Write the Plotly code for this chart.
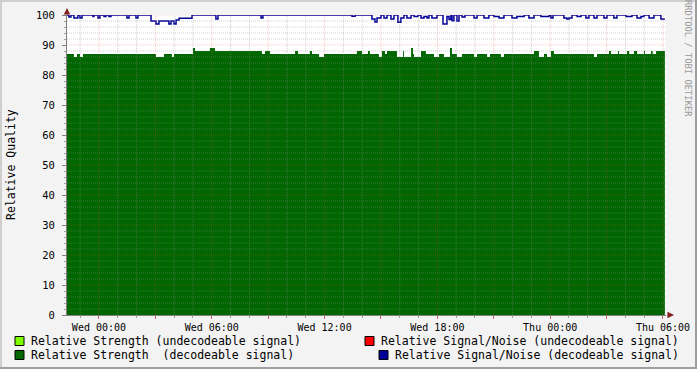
import plotly.graph_objects as go

# ---------------- data (hours relative to Wed 00:00) ----------------
strength_t = [-1.70, -1.33, -1.17, -1.01, -0.85, 3.03, 3.46, 3.88, 3.99, 5.00, 5.11, 5.90, 6.17,
              8.67, 8.83, 9.10, 10.43, 10.59, 11.22, 11.33, 11.70, 11.97, 13.72, 13.99, 14.31,
              14.41, 14.89, 15.05, 15.21, 15.32, 15.85, 16.17, 16.22, 16.60, 16.70, 16.76, 17.13,
              17.39, 17.82, 18.09, 18.35, 18.67, 18.78, 19.04, 19.31, 19.95, 20.11, 20.64, 20.80,
              21.38, 21.54, 23.14, 23.40, 23.67, 23.83, 24.04, 24.20, 26.33, 26.49, 27.13, 27.23,
              27.61, 27.66, 28.09, 28.20, 28.46, 28.62, 28.99, 29.04, 29.36, 29.45, 29.63, 30.10]
strength_v = [87, 86, 87, 86, 87, 86, 87, 86, 87, 89, 88, 89, 88,
              87, 88, 87, 88, 87, 88, 87, 86, 87, 88, 87, 88,
              87, 86, 88, 87, 88, 86, 88, 86, 89, 87, 86, 88,
              87, 86, 87, 86, 89, 87, 86, 87, 86, 87, 86, 87,
              86, 87, 88, 86, 87, 86, 88, 87, 86, 87, 88, 87,
              88, 87, 88, 87, 88, 87, 88, 87, 88, 87, 88, 88]

snr_t = [-1.70, -1.60, -1.49, -1.33, -1.12, -1.01, -0.90, -0.32, -0.27, -0.05, 0.05, 0.27, 0.37,
         0.53, 0.64, 1.49, 1.60, 1.97, 2.07, 2.77, 3.03, 3.19, 3.72, 3.83, 3.99, 4.10, 4.26,
         4.95, 6.22, 6.33, 8.62, 8.72, 13.46, 13.62, 14.52, 14.68, 14.79, 15.00, 15.16, 15.32,
         15.53, 15.69, 15.90, 16.06, 16.22, 16.38, 16.60, 16.76, 16.97, 17.13, 17.29, 17.45,
         17.55, 17.71, 17.98, 18.30, 18.51, 18.62, 18.72, 18.78, 18.88, 19.04, 19.15, 19.31,
         19.47, 19.95, 20.11, 20.48, 20.74, 21.01, 21.28, 21.54, 21.97, 22.23, 22.61, 22.87,
         23.14, 23.51, 23.67, 23.94, 24.04, 24.15, 24.73, 24.89, 25.00, 25.16, 25.43, 25.64,
         25.90, 26.06, 26.33, 26.49, 26.86, 27.02, 27.39, 27.55, 28.03, 28.35, 28.62, 28.83,
         28.99, 29.26, 29.52, 29.89, 30.10]
snr_v = [100, 99.3, 100, 99, 100, 99, 100, 99.5, 100, 99, 100, 99.5, 100,
         99.5, 100, 99, 100, 99, 100, 98, 97, 98, 97, 98, 97, 98.3, 98.9,
         100, 98.7, 100, 99, 100, 99.6, 100, 98.7, 97.7, 99, 100, 99, 100,
         98.7, 100, 97.6, 99, 100, 99, 100, 99.5, 100, 99, 99.5, 99,
         100, 99, 100, 97, 99.5, 98.5, 100, 98.1, 100, 98, 100, 99.3,
         100, 99, 100, 99, 100, 99.5, 99, 100, 99, 99.5, 100, 99,
         100, 99.5, 99.5, 100, 99, 100, 99, 98.7, 99, 100, 99.5, 100,
         99, 100, 99, 100, 99, 100, 99, 100, 99.5, 100, 99, 99.5,
         100, 99, 100, 98.7, 98.7]

x_tick_vals = [0, 3, 6, 9, 12, 15, 18, 21, 24, 27, 30]
x_tick_text = ["Wed 00:00", "", "Wed 06:00", "", "Wed 12:00", "", "Wed 18:00", "",
               "Thu 00:00", "", "Thu 06:00"]
y_tick_vals = [0, 10, 20, 30, 40, 50, 60, 70, 80, 90, 100]

legend_labels = ["Relative Strength (undecodeable signal)",
                 "Relative Strength  (decodeable signal)",
                 "Relative Signal/Noise (undecodeable signal)",
                 "Relative Signal/Noise (decodeable signal)"]
legend_colors = ["#80ff00", "#006600", "#ff0000", "#000099"]

# ---------------- layout geometry ----------------
W, H = 697, 369
L, R, T, B = 67, 31, 15, 54
PW, PH = W - L - R, H - T - B


def px(xp):
    return (xp - L) / PW


def py(yp):
    return (H - B - yp) / PH


MONO = "DejaVu Sans Mono"
X_MIN, X_MAX = -1.70, 30.16

fig = go.Figure()
fig.add_trace(go.Scatter(x=strength_t, y=strength_v, mode="lines", line=dict(width=0, shape="hv"),
                         fill="tozeroy", fillcolor="#006600", hoverinfo="skip", showlegend=False))
fig.add_trace(go.Scatter(x=snr_t, y=snr_v, mode="lines", line=dict(width=1.5, color="#000099", shape="hv"),
                         hoverinfo="skip", showlegend=False))

shapes = []
MINOR = "rgba(140,140,140,0.4)"
MAJOR = "rgba(222,60,60,0.28)"
DOT = "1px,1px"
# vertical grid
for h in range(-1, 31):
    col = MAJOR if h % 3 == 0 else MINOR
    shapes.append(dict(type="line", xref="x", yref="y", x0=h, x1=h, y0=0, y1=100,
                       line=dict(color=col, width=1, dash=DOT), layer="above"))
# horizontal grid
for v in range(2, 101, 2):
    col = MAJOR if v % 10 == 0 else MINOR
    shapes.append(dict(type="line", xref="x", yref="y", x0=X_MIN, x1=X_MAX, y0=v, y1=v,
                       line=dict(color=col, width=1, dash=DOT), layer="above"))

# outer frame shading
shapes += [
    dict(type="rect", xref="paper", yref="paper", x0=px(0), x1=px(W), y0=py(0), y1=py(2),
         fillcolor="#cfcfcf", line=dict(width=0), layer="below"),
    dict(type="rect", xref="paper", yref="paper", x0=px(0), x1=px(2), y0=py(H), y1=py(0),
         fillcolor="#cfcfcf", line=dict(width=0), layer="below"),
    dict(type="rect", xref="paper", yref="paper", x0=px(W - 2), x1=px(W), y0=py(H), y1=py(0),
         fillcolor="#9e9e9e", line=dict(width=0), layer="below"),
    dict(type="rect", xref="paper", yref="paper", x0=px(0), x1=px(W), y0=py(H), y1=py(H - 2),
         fillcolor="#9e9e9e", line=dict(width=0), layer="below"),
]

# legend swatches and text
annotations = []
legend_pos = [(15, 341, 29), (15, 355, 29), (365, 341, 379), (379, 355, 393)]
for (sx, sy, tx), lab, colr in zip(legend_pos, legend_labels, legend_colors):
    shapes.append(dict(type="rect", xref="paper", yref="paper",
                       x0=px(sx), x1=px(sx + 9), y0=py(sy + 4.5), y1=py(sy - 4.5),
                       fillcolor=colr, line=dict(color="#000000", width=1)))
    annotations.append(dict(x=px(tx), y=py(sy), xref="paper", yref="paper", text=lab,
                            showarrow=False, xanchor="left", yanchor="middle",
                            font=dict(family=MONO, size=11.5, color="#000000")))

# y axis title
annotations.append(dict(x=px(11), y=py(165), xref="paper", yref="paper", text="Relative Quality",
                        textangle=-90, showarrow=False, xanchor="center", yanchor="middle",
                        font=dict(family=MONO, size=11.5, color="#000000")))
# watermark
annotations.append(dict(x=px(688), y=py(58), xref="paper", yref="paper", text="RRDTOOL / TOBI OETIKER",
                        textangle=90, showarrow=False, xanchor="center", yanchor="middle",
                        font=dict(family=MONO, size=8.8, color="#9a9a9a")))
# axis arrows
annotations.append(dict(x=px(67), y=py(8), xref="paper", yref="paper", text="", showarrow=True,
                        ax=0, ay=8, arrowhead=2, arrowsize=1.3, arrowwidth=1, arrowcolor="#7f1f1f"))
annotations.append(dict(x=px(674), y=py(315), xref="paper", yref="paper", text="", showarrow=True,
                        ax=-8, ay=0, arrowhead=2, arrowsize=1.3, arrowwidth=1, arrowcolor="#7f1f1f"))

fig.update_layout(
    width=W, height=H,
    margin=dict(l=L, r=R, t=T, b=B, autoexpand=False),
    paper_bgcolor="#f3f3f3", plot_bgcolor="#ffffff",
    shapes=shapes, annotations=annotations, showlegend=False,
    xaxis=dict(range=[X_MIN, X_MAX], tickvals=x_tick_vals, ticktext=x_tick_text,
               showgrid=False, zeroline=False, showline=True, linecolor="#808080", linewidth=1,
               ticks="outside", ticklen=3, tickcolor="#d06060",
               minor=dict(ticks="outside", ticklen=2, dtick=1, tick0=0, tickcolor="#a0a0a0", showgrid=False),
               tickfont=dict(family=MONO, size=10, color="#000000"), fixedrange=True),
    yaxis=dict(range=[0, 100], tickvals=y_tick_vals, showgrid=False, zeroline=False,
               showline=True, linecolor="#808080", linewidth=1,
               ticks="outside", ticklen=4, tickcolor="#808080", ticklabelstandoff=5,
               minor=dict(ticks="outside", ticklen=2, dtick=2, tick0=0, tickcolor="#a0a0a0", showgrid=False),
               tickfont=dict(family=MONO, size=10.5, color="#000000"), fixedrange=True),
)

fig.write_html("out.html")
